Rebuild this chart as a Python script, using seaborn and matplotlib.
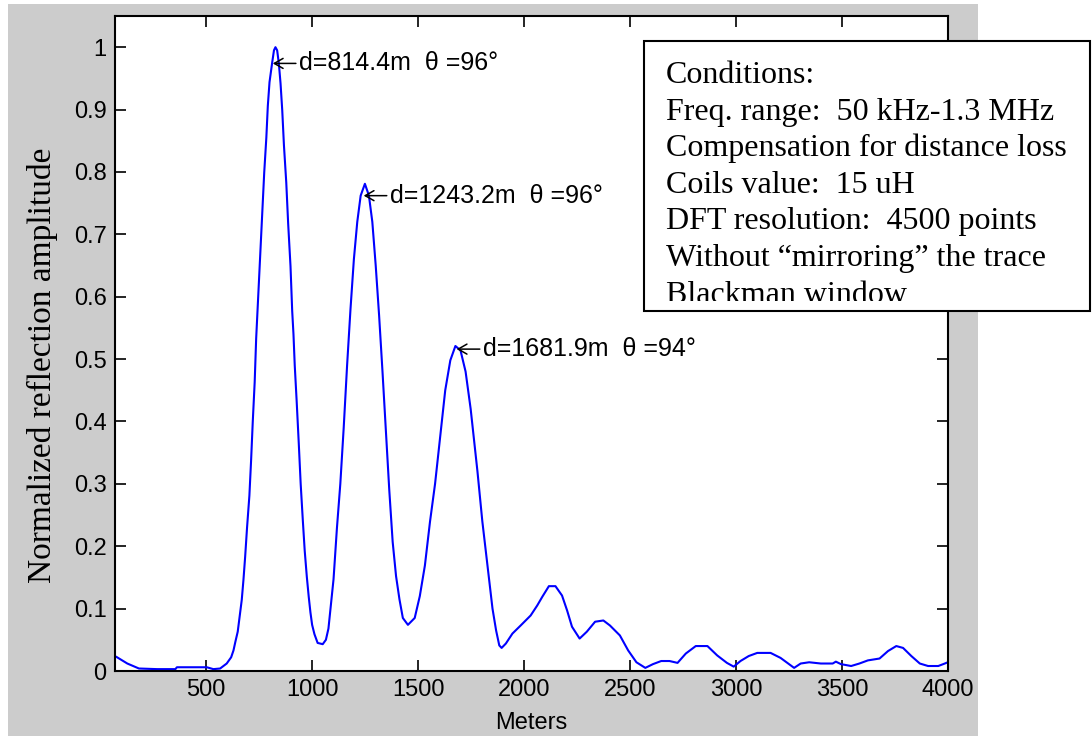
import matplotlib
matplotlib.use("Agg")
import matplotlib.pyplot as plt
from matplotlib.patches import Rectangle
from matplotlib.transforms import Bbox, TransformedBbox
import seaborn as sns

# trace (meters, normalized amplitude)
meters = [75, 128, 183, 269, 355, 362, 472, 503, 534, 566, 597, 618, 629, 638,
          649, 657, 668, 676, 684, 693, 704, 712, 720, 729, 736, 746, 755, 765,
          774, 784, 791, 799, 811, 820, 827, 835, 843, 851, 859, 867, 878, 887,
          898, 906, 912, 918, 927, 937, 946, 956, 965, 975, 984, 992, 1000, 1011,
          1026, 1050, 1065, 1077, 1101, 1117, 1133, 1149, 1165, 1181, 1197, 1213,
          1229, 1249, 1268, 1284, 1300, 1316, 1332, 1348, 1364, 1380, 1396, 1412,
          1428, 1452, 1484, 1508, 1532, 1556, 1580, 1604, 1628, 1652, 1676, 1700,
          1724, 1748, 1764, 1780, 1803, 1827, 1851, 1868, 1883, 1894, 1914, 1945,
          1984, 2031, 2062, 2086, 2117, 2148, 2179, 2203, 2226, 2262, 2296, 2335,
          2374, 2405, 2452, 2491, 2530, 2572, 2608, 2647, 2686, 2724, 2763, 2810,
          2865, 2911, 2957, 2989, 3021, 3060, 3100, 3163, 3210, 3242, 3274, 3305,
          3345, 3400, 3456, 3471, 3495, 3543, 3582, 3622, 3677, 3717, 3756, 3788,
          3827, 3867, 3906, 3954, 3985, 4006]
amplitude = [0.023, 0.012, 0.004, 0.003, 0.003, 0.006, 0.006, 0.006, 0.003, 0.004,
             0.012, 0.022, 0.033, 0.047, 0.063, 0.084, 0.114, 0.146, 0.183, 0.230,
             0.281, 0.337, 0.400, 0.463, 0.533, 0.603, 0.669, 0.736, 0.799, 0.855,
             0.906, 0.944, 0.974, 0.995, 1.0, 0.995, 0.974, 0.942, 0.899, 0.843,
             0.783, 0.717, 0.649, 0.577, 0.54, 0.49, 0.433, 0.365, 0.300, 0.242,
             0.193, 0.151, 0.119, 0.094, 0.074, 0.059, 0.045, 0.043, 0.050, 0.068,
             0.147, 0.229, 0.300, 0.390, 0.490, 0.580, 0.660, 0.720, 0.762, 0.781,
             0.762, 0.720, 0.650, 0.570, 0.480, 0.386, 0.290, 0.207, 0.152, 0.115,
             0.085, 0.074, 0.085, 0.120, 0.169, 0.239, 0.300, 0.375, 0.450, 0.498,
             0.521, 0.514, 0.480, 0.420, 0.370, 0.320, 0.240, 0.170, 0.100, 0.065,
             0.041, 0.037, 0.044, 0.060, 0.073, 0.089, 0.105, 0.119, 0.136, 0.136,
             0.121, 0.097, 0.071, 0.052, 0.063, 0.079, 0.081, 0.073, 0.057, 0.033,
             0.014, 0.005, 0.011, 0.016, 0.016, 0.013, 0.028, 0.040, 0.040, 0.025,
             0.013, 0.007, 0.016, 0.024, 0.029, 0.029, 0.021, 0.013, 0.005, 0.012,
             0.014, 0.012, 0.012, 0.015, 0.011, 0.008, 0.012, 0.017, 0.020, 0.032,
             0.040, 0.037, 0.024, 0.012, 0.008, 0.008, 0.012, 0.015]

peak_d = [814.4, 1243.2, 1681.9]
peak_y = [0.974, 0.762, 0.516]
peak_labels = ["d=814.4m  \u03b8 =96\u00b0", "d=1243.2m  \u03b8 =96\u00b0",
               "d=1681.9m  \u03b8 =94\u00b0"]

x_ticks = [500, 1000, 1500, 2000, 2500, 3000, 3500, 4000]
y_ticks = [0, 0.1, 0.2, 0.3, 0.4, 0.5, 0.6, 0.7, 0.8, 0.9, 1]
y_ticklabels = ["0", "0.1", "0.2", "0.3", "0.4", "0.5", "0.6", "0.7", "0.8", "0.9", "1"]

conditions = [
    "Conditions:",
    "Freq. range:  50 kHz-1.3 MHz",
    "Compensation for distance loss",
    "Coils value:  15 uH",
    "DFT resolution:  4500 points",
    "Without \u201cmirroring\u201d the trace",
    "Blackman window",
]

sns.set_style("ticks")
plt.rcParams['font.family'] = ['Liberation Sans', 'DejaVu Sans']
plt.rcParams['text.color'] = 'black'
plt.rcParams['axes.labelcolor'] = 'black'

W, H = 1092, 736
fig = plt.figure(figsize=(W / 100, H / 100), dpi=100, facecolor="white")

# grey matlab-style figure area, behind the axes
fig.patches.append(Rectangle((8 / W, 0), 970 / W, 732 / H, transform=fig.transFigure,
                             facecolor="#cccccc", edgecolor="none", zorder=-5))

ax = fig.add_axes([115 / W, 1 - 671 / H, 833 / W, 655 / H])
ax.set_facecolor("white")

sns.lineplot(x=meters, y=amplitude, ax=ax, color="#0000ff", linewidth=1.5)

ax.set_xlim(70, 4000)
ax.set_ylim(0, 1.05)
ax.set_xticks(x_ticks)
ax.set_xticklabels([str(t) for t in x_ticks])
ax.set_yticks(y_ticks)
ax.set_yticklabels(y_ticklabels)
ax.tick_params(direction="in", length=8, width=1.2, labelsize=17, colors="black",
               top=True, right=True, pad=6)
for sp in ax.spines.values():
    sp.set_linewidth(1.5)
    sp.set_color("black")

for d, yv, lab in zip(peak_d, peak_y, peak_labels):
    ax.annotate(lab, xy=(d, yv), xytext=(19, 0), textcoords="offset points",
                ha="left", va="center", fontsize=18, color="black",
                arrowprops=dict(arrowstyle="->,head_length=0.35,head_width=0.2",
                                color="black", lw=1.1, shrinkA=0, shrinkB=0))

ax.set_xlabel("Meters", fontsize=17, labelpad=8, color="black")
ax.set_ylabel("Normalized reflection amplitude", fontsize=24, family="Liberation Serif",
              va="center", color="black")
ax.yaxis.set_label_coords(-0.0876, 0.467)

# conditions box
bx0, by0, bx1, by1 = 644, 41, 1090, 311
fig.patches.append(Rectangle((bx0 / W, 1 - by1 / H), (bx1 - bx0) / W, (by1 - by0) / H,
                             transform=fig.transFigure, facecolor="white",
                             edgecolor="black", linewidth=1.5, zorder=5))
clip = TransformedBbox(Bbox.from_extents(bx0 / W, 1 - 301 / H, bx1 / W, 1 - by0 / H),
                       fig.transFigure)
for i, line in enumerate(conditions):
    t = fig.text(666 / W, 1 - (83 + 36.6 * i) / H, line, ha="left", va="baseline",
                 fontsize=23, family="Liberation Serif", color="black", zorder=6)
    t.set_clip_box(clip)
    t.set_clip_on(True)

fig.savefig("out.png", dpi=100, facecolor="white")
